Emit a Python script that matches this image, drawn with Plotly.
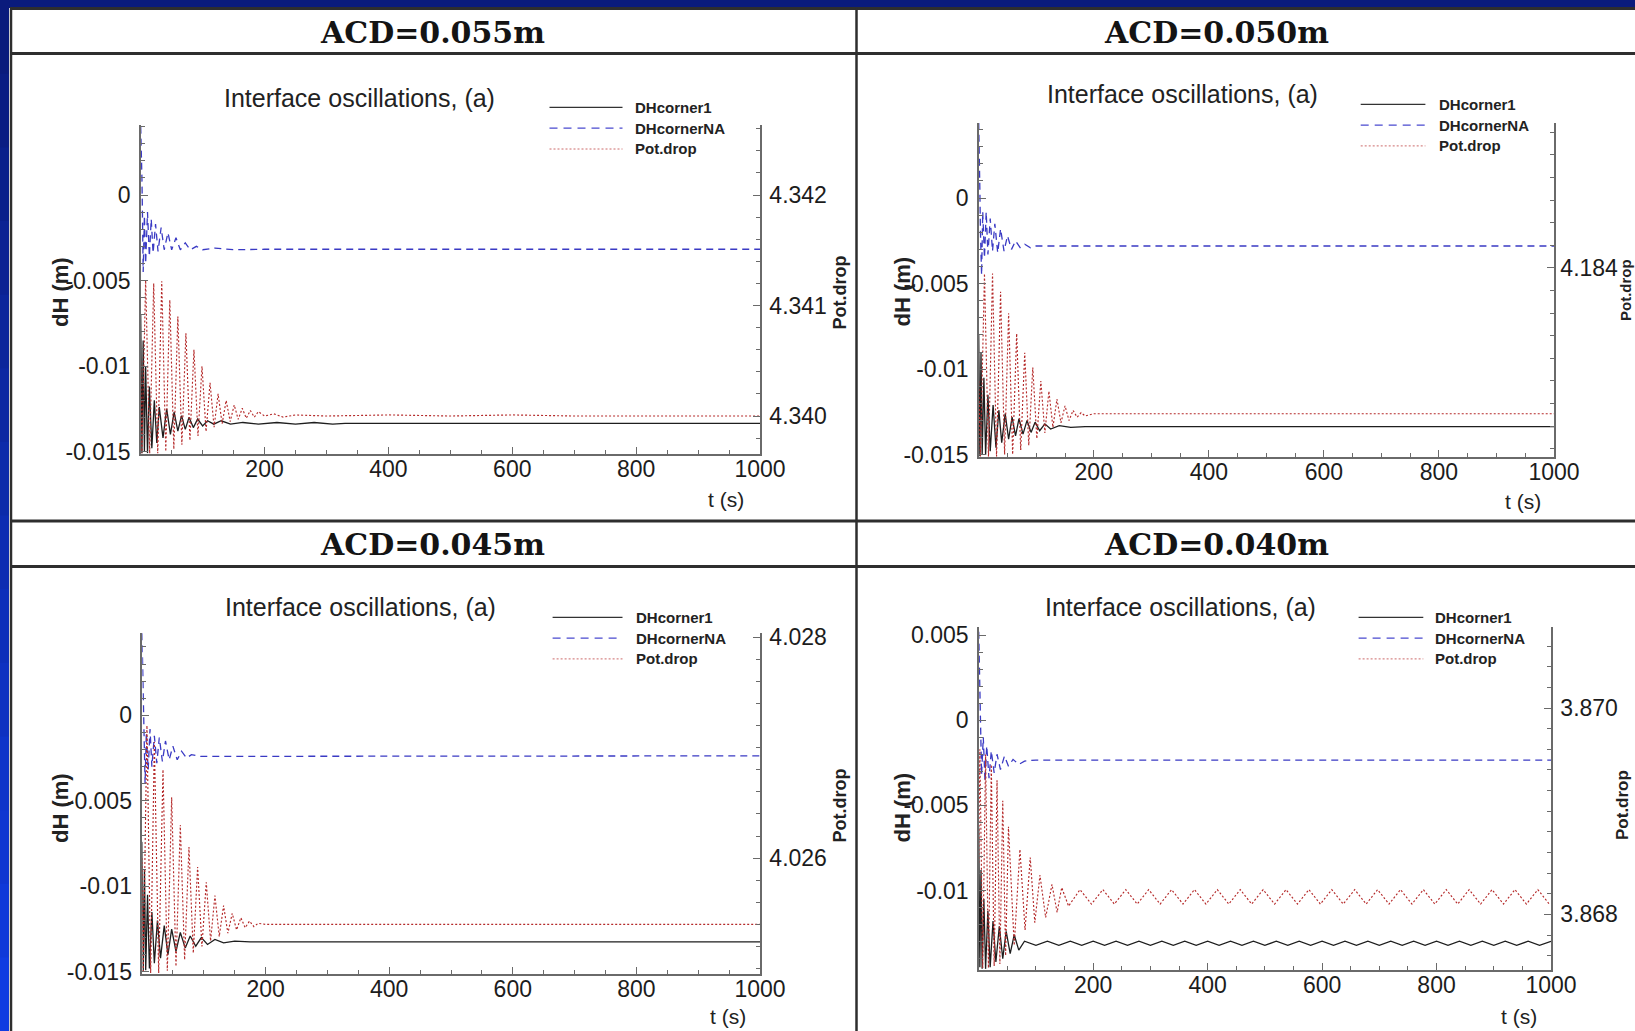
import plotly.graph_objects as go

W, H = 1635, 1031

# ---------------- data ----------------
PANEL_TITLES = ["ACD=0.055m", "ACD=0.050m", "ACD=0.045m", "ACD=0.040m"]
PLOT_TITLE = "Interface oscillations, (a)"
SERIES_NAMES = ["DHcorner1", "DHcornerNA", "Pot.drop"]
X_LABEL = "t (s)"
YL_LABEL = "dH (m)"
YR_LABEL = "Pot.drop"
X_TICKS = [200, 400, 600, 800, 1000]
YL_TICKS_A = [0, -0.005, -0.01, -0.015]
YL_TEXT_A = ["0", "-0.005", "-0.01", "-0.015"]
YL_TICKS_B = [0.005, 0, -0.005, -0.01]
YL_TEXT_B = ["0.005", "0", "-0.005", "-0.01"]
YR_TICKS_055 = [4.340, 4.341, 4.342]
YR_TICKS_050 = [4.184]
YR_TICKS_045 = [4.026, 4.028]
YR_TICKS_040 = [3.868, 3.870]

# ---- ACD = 0.055 m ----
T_DH1_055 = [0, 2, 4, 6, 8, 11, 14, 18, 22, 26, 30, 36, 42, 48, 54, 60, 66, 72, 78, 85,
             92, 100, 108, 118, 130, 145, 165, 190, 220, 250, 280, 310, 330, 400, 500,
             600, 700, 800, 900, 1000]
DH1_055 = [-0.0070, -0.0151, -0.0085, -0.0150, -0.0100, -0.0151, -0.0112, -0.0148, -0.0120, -0.0145,
           -0.0124, -0.0142, -0.0125, -0.0140, -0.0127, -0.0138, -0.0129, -0.0137, -0.0130, -0.0136,
           -0.0131, -0.0135, -0.0132, -0.0134, -0.0132, -0.0134, -0.0133, -0.0134, -0.0133, -0.0134,
           -0.0133, -0.0134, -0.01335, -0.01335, -0.01335, -0.01335, -0.01335, -0.01335, -0.01335, -0.01335]
T_DHNA_055 = [0, 1, 2, 3, 4, 6, 8, 11, 14, 17, 20, 24, 28, 33, 38, 44, 50, 57, 64, 72,
              80, 90, 100, 120, 150, 200, 1000]
DHNA_055 = [0.0040, 0.0030, 0.0010, -0.0015, -0.0045, -0.0012, -0.0040, -0.0010, -0.0036, -0.0014,
            -0.0034, -0.0017, -0.0033, -0.0019, -0.0032, -0.0022, -0.0032, -0.0025, -0.0032, -0.0028,
            -0.0032, -0.0030, -0.0032, -0.0031, -0.0032, -0.00317, -0.00317]
T_POT_055 = [0, 2, 8, 14.5, 21, 27.5, 34, 40.5, 47, 53.5, 60, 66.5, 73, 79.5, 86, 92.5, 99, 105.5,
             112, 118.5, 125, 131.5, 138, 144.5, 151, 157.5, 164, 170.5, 177, 183.5, 190, 200,
             215, 230, 250, 300, 400, 500, 600, 700, 800, 900, 1000]
POT_055 = [4.3405, 4.33966, 4.34123, 4.33966, 4.34120, 4.33966, 4.34122, 4.33968, 4.34105, 4.33970,
           4.34090, 4.33974, 4.34075, 4.33978, 4.34060, 4.33982, 4.34045, 4.33986, 4.34030, 4.33990,
           4.34020, 4.33993, 4.34014, 4.33995, 4.34010, 4.33997, 4.34007, 4.33998, 4.34005, 4.33999,
           4.34004, 4.34000, 4.34002, 4.33999, 4.34001, 4.34000, 4.34001, 4.34000, 4.34001, 4.34000,
           4.34000, 4.34000, 4.34000]

# ---- ACD = 0.050 m ----
T_DH1_050 = [0, 2, 4, 6, 9, 12, 16, 20, 25, 30, 35, 40, 46, 52, 58, 64, 70, 77, 84, 91,
             98, 106, 115, 125, 140, 160, 185, 1000]
DH1_050 = [-0.0080, -0.0151, -0.0090, -0.0150, -0.0105, -0.0150, -0.0115, -0.0148, -0.0121, -0.0146,
           -0.0124, -0.0143, -0.0126, -0.0141, -0.0128, -0.0139, -0.0129, -0.0138, -0.0130, -0.0137,
           -0.0131, -0.0136, -0.0132, -0.0135, -0.0133, -0.0134, -0.01336, -0.01336]
T_DHNA_050 = [0, 1, 2, 3, 5, 7, 10, 13, 16, 20, 24, 28, 33, 38, 44, 50, 57, 64, 72, 80,
              90, 100, 130, 1000]
DHNA_050 = [0.0044, 0.0030, 0.0005, -0.0020, -0.0045, -0.0008, -0.0035, -0.0008, -0.0033, -0.0012,
            -0.0031, -0.0015, -0.0032, -0.0018, -0.0031, -0.0022, -0.0030, -0.0025, -0.0029, -0.0027,
            -0.0029, -0.0028, -0.0028, -0.0028]
T_POT_050 = [0, 3, 10, 17, 24, 31, 38, 45, 52, 59, 66, 73, 80, 87, 94, 101, 108, 115, 122, 129,
             136, 143, 150, 157, 164, 171, 178, 185, 200, 1000]
POT_050 = [4.1830, 4.18233, 4.18395, 4.18233, 4.18395, 4.18233, 4.18379, 4.18235, 4.18360, 4.18235,
           4.18342, 4.18239, 4.18325, 4.18243, 4.18312, 4.18249, 4.18300, 4.18254, 4.18291, 4.18259,
           4.18284, 4.18263, 4.18278, 4.18265, 4.18274, 4.18268, 4.18272, 4.18269, 4.18271, 4.18271]

# ---- ACD = 0.045 m ----
T_DH1_045 = [0, 2, 4, 6, 9, 12, 16, 20, 25, 30, 36, 42, 48, 55, 62, 70, 78, 87, 96, 106,
             118, 132, 150, 175, 1000]
DH1_045 = [-0.0074, -0.0150, -0.0090, -0.0149, -0.0105, -0.0148, -0.0115, -0.0145, -0.0120, -0.0142,
           -0.0123, -0.0140, -0.0125, -0.0138, -0.0127, -0.0136, -0.0129, -0.0135, -0.0130, -0.0134,
           -0.0131, -0.0133, -0.0132, -0.01325, -0.01325]
T_DHNA_045 = [0, 1, 2, 3, 5, 7, 10, 13, 16, 20, 24, 28, 33, 38, 44, 50, 57, 64, 72, 80, 95, 1000]
DHNA_045 = [0.0048, 0.0030, 0.0005, -0.0020, -0.0040, -0.0010, -0.0032, -0.0008, -0.0030, -0.0012,
            -0.0028, -0.0013, -0.0027, -0.0015, -0.0026, -0.0018, -0.0026, -0.0021, -0.0025, -0.0023,
            -0.0024, -0.00237]
T_POT_045 = [0, 2, 8, 14, 20, 27, 34, 41, 48, 55, 62, 69, 76, 83, 90, 97, 104, 111, 118, 125,
             132, 139, 146, 153, 160, 167, 174, 181, 188, 200, 1000]
POT_045 = [4.0260, 4.02496, 4.02720, 4.02496, 4.02705, 4.02496, 4.02680, 4.02498, 4.02655, 4.02502,
           4.02630, 4.02508, 4.02610, 4.02514, 4.02592, 4.02520, 4.02578, 4.02525, 4.02566, 4.02529,
           4.02557, 4.02532, 4.02550, 4.02535, 4.02546, 4.02537, 4.02543, 4.02538, 4.02541, 4.02540,
           4.02540]

# ---- ACD = 0.040 m ----
T_DH1_040 = [0, 2, 4, 6, 9, 12, 16, 20, 25, 30, 36, 42, 48, 55, 62, 70,
             80, 100, 120, 140, 160, 180, 200, 220, 240, 260, 280, 300, 320, 340, 360, 380, 400,
             420, 440, 460, 480, 500, 520, 540, 560, 580, 600, 620, 640, 660, 680, 700,
             720, 740, 760, 780, 800, 820, 840, 860, 880, 900, 920, 940, 960, 980, 1000]
DH1_040 = [-0.0063, -0.0145, -0.0088, -0.0146, -0.0105, -0.0146, -0.0112, -0.0145, -0.0118, -0.0142,
           -0.0121, -0.0140, -0.0124, -0.0137, -0.0126, -0.0135,
           -0.01298, -0.01322, -0.01298, -0.01322, -0.01298, -0.01322, -0.01298, -0.01322, -0.01298,
           -0.01322, -0.01298, -0.01322, -0.01298, -0.01322, -0.01298, -0.01322, -0.01298,
           -0.01322, -0.01298, -0.01322, -0.01298, -0.01322, -0.01298, -0.01322, -0.01298,
           -0.01322, -0.01298, -0.01322, -0.01298, -0.01322, -0.01298, -0.01322,
           -0.01298, -0.01322, -0.01298, -0.01322, -0.01298, -0.01322, -0.01298, -0.01322,
           -0.01298, -0.01322, -0.01298, -0.01322, -0.01298, -0.01322, -0.01298]
T_DHNA_040 = [0, 1, 2, 3, 5, 8, 11, 14, 18, 22, 27, 32, 38, 45, 52, 60, 70, 80, 100, 1000]
DHNA_040 = [0.0052, 0.0035, 0.0010, -0.0015, -0.0032, -0.0010, -0.0036, -0.0015, -0.0034, -0.0018,
            -0.0031, -0.0020, -0.0029, -0.0021, -0.0027, -0.0023, -0.0026, -0.0024, -0.00234, -0.00234]
T_POT_040 = [0, 2, 7, 12, 17, 22, 27, 32, 37, 42, 47, 52, 62, 72, 81, 90, 98, 107, 117, 128,
             137, 145, 157,
             177, 197, 217, 237, 257, 277, 297, 317, 337, 357, 377, 397, 417, 437, 457, 477, 497,
             517, 537, 557, 577, 597, 617, 637, 657, 677, 697, 717, 737, 757, 777, 797,
             817, 837, 857, 877, 897, 917, 937, 957, 977, 997]
POT_040 = [3.8685, 3.86960, 3.86748, 3.86955, 3.86748, 3.86945, 3.86750, 3.86930, 3.86752, 3.86910,
           3.86760, 3.86885, 3.86770, 3.86863, 3.86785, 3.86855, 3.86792, 3.86838, 3.86797, 3.86829,
           3.86802, 3.86826, 3.86808,
           3.86824, 3.86810, 3.86824, 3.86810, 3.86824, 3.86810, 3.86824, 3.86810, 3.86824, 3.86810,
           3.86824, 3.86810, 3.86824, 3.86810, 3.86824, 3.86810, 3.86824,
           3.86810, 3.86824, 3.86810, 3.86824, 3.86810, 3.86824, 3.86810, 3.86824, 3.86810, 3.86824,
           3.86810, 3.86824, 3.86810, 3.86824, 3.86810,
           3.86824, 3.86810, 3.86824, 3.86810, 3.86824, 3.86810, 3.86824, 3.86810, 3.86824, 3.86810]

# ---------------- styling / layout ----------------
NAVY = "#0a1b7c"
AXC = "#6a6a6a"
TXT = "#1c1c1c"
C_BLACK = "#1e1e1e"
C_BLUE = "#3a3ac4"
C_RED = "#b52a2a"
TICKFONT = dict(family="Liberation Sans, Arial, sans-serif", size=23, color=TXT)


def px(x):
    return x / W


def py(y):
    return 1 - y / H


# panel geometry in page pixels: plot box and axis ranges
PANELS = [
    dict(name=PANEL_TITLES[0], hx=432.7, hy=32.3, x0=141, x1=760, y0=125.1, y1=453.6,
         yl=[-0.01512, 0.00409], yr=[4.339660, 4.342633], ylt=YL_TICKS_A, ylx=YL_TEXT_A,
         yrt=YR_TICKS_055, yrmin=[4.3398, 4.3426], rstand=3,
         series=(T_DH1_055, DH1_055, T_DHNA_055, DHNA_055, T_POT_055, POT_055),
         title=(359.7, 98.0), leg=(549.5, 622.5, 633.0, 107.4, 20.8),
         dh=(60.0, 292), pot=(840.4, 292, 18), ts=(726.0, 499.0)),
    dict(name=PANEL_TITLES[1], hx=1216.8, hy=32.3, x0=979, x1=1554, y0=123.0, y1=456.7,
         yl=[-0.01512, 0.00439], yr=[4.182330, 4.185283], ylt=YL_TICKS_A, ylx=YL_TEXT_A,
         yrt=YR_TICKS_050, yrmin=[4.1824, 4.1852], rstand=0,
         series=(T_DH1_050, DH1_050, T_DHNA_050, DHNA_050, T_POT_050, POT_050),
         title=(1182.4, 93.8), leg=(1360.7, 1425.4, 1436.8, 104.3, 20.8),
         dh=(901.5, 292), pot=(1625.0, 290, 15), ts=(1523.0, 501.0)),
    dict(name=PANEL_TITLES[2], hx=432.7, hy=544.3, x0=142.3, x1=760, y0=632.9, y1=973.9,
         yl=[-0.01512, 0.00482], yr=[4.024952, 4.028038], ylt=YL_TICKS_A, ylx=YL_TEXT_A,
         yrt=YR_TICKS_045, yrmin=[4.0250, 4.0280], rstand=3,
         series=(T_DH1_045, DH1_045, T_DHNA_045, DHNA_045, T_POT_045, POT_045),
         title=(360.8, 606.9), leg=(552.6, 622.5, 634.0, 617.3, 20.8),
         dh=(60.0, 808), pot=(840.4, 805, 18), ts=(728.0, 1016.0)),
    dict(name=PANEL_TITLES[3], hx=1216.8, hy=544.3, x0=979, x1=1551, y0=626.7, y1=969.7,
         yl=[-0.01465, 0.00549], yr=[3.867464, 3.870788], ylt=YL_TICKS_B, ylx=YL_TEXT_B,
         yrt=YR_TICKS_040, yrmin=[3.8676, 3.8708], rstand=3,
         series=(T_DH1_040, DH1_040, T_DHNA_040, DHNA_040, T_POT_040, POT_040),
         title=(1180.3, 606.9), leg=(1358.6, 1423.3, 1432.7, 617.3, 20.8),
         dh=(901.5, 808), pot=(1622.0, 805, 17), ts=(1519.0, 1016.0)),
]

fig = go.Figure()
layout = dict(
    width=W, height=H, autosize=False,
    margin=dict(l=0, r=0, t=0, b=0, pad=0, autoexpand=False),
    paper_bgcolor=NAVY, plot_bgcolor="rgba(0,0,0,0)", showlegend=False,
)
shapes = []
annotations = []

# ---- blue slide background with gradient on the left strip ----
n_grad = 14
for i in range(n_grad):
    f = i / (n_grad - 1)
    r = int(10 + f * (16 - 10))
    g = int(27 + f * (60 - 27))
    b = int(124 + f * (225 - 124))
    shapes.append(dict(type="rect", xref="paper", yref="paper", layer="below",
                       x0=px(0), x1=px(9), y0=py(H * (i + 1) / n_grad + 1), y1=py(H * i / n_grad),
                       fillcolor=f"rgb({r},{g},{b})", line=dict(width=0)))
# white table cells
shapes.append(dict(type="rect", xref="paper", yref="paper", layer="below",
                   x0=px(9), x1=px(W + 5), y0=py(H + 5), y1=py(8),
                   fillcolor="white", line=dict(width=0)))
shapes.append(dict(type="rect", xref="paper", yref="paper", layer="below",
                   x0=px(0), x1=px(W + 5), y0=py(7), y1=py(-2),
                   fillcolor=NAVY, line=dict(width=0)))
# table grid lines
GRID = "#2e2e2e"
for yy in [8.5, 53.5, 521.0, 566.5]:
    shapes.append(dict(type="line", xref="paper", yref="paper", layer="below",
                       x0=px(10), x1=px(W + 5), y0=py(yy), y1=py(yy),
                       line=dict(color=GRID, width=3)))
for xx in [11.0, 856.5]:
    shapes.append(dict(type="line", xref="paper", yref="paper", layer="below",
                       x0=px(xx), x1=px(xx), y0=py(8), y1=py(H + 5),
                       line=dict(color=GRID, width=2.5)))

STYLES = [
    dict(color=C_BLACK, width=1.3, dash="solid"),
    dict(color=C_BLUE, width=1.3, dash="7px,5px"),
    dict(color=C_RED, width=1.15, dash="2px,2px"),
]
LEG_STYLES = [
    dict(color="#333333", width=1.3, dash="solid"),
    dict(color="#4a4ad0", width=1.3, dash="8px,6px"),
    dict(color="#cc6a6a", width=1.0, dash="2px,2px"),
]


def frange(a, b, step):
    out = []
    k = 0
    while a + k * step <= b + 1e-12:
        out.append(round(a + k * step, 6))
        k += 1
    return out


for k, p in enumerate(PANELS, start=1):
    xname = "x" if k == 1 else f"x{k}"
    yl_idx, yr_idx = 2 * k - 1, 2 * k
    ylname = "y" if yl_idx == 1 else f"y{yl_idx}"
    yrname = f"y{yr_idx}"
    xkey = "xaxis" if k == 1 else f"xaxis{k}"
    ylkey = "yaxis" if yl_idx == 1 else f"yaxis{yl_idx}"
    yrkey = f"yaxis{yr_idx}"

    tb, vb, tn, vn, tp, vp = p["series"]
    fig.add_trace(go.Scatter(x=tb, y=vb, mode="lines", name=SERIES_NAMES[0],
                             line=STYLES[0], xaxis=xname, yaxis=ylname))
    fig.add_trace(go.Scatter(x=tn, y=vn, mode="lines", name=SERIES_NAMES[1],
                             line=STYLES[1], xaxis=xname, yaxis=ylname))
    fig.add_trace(go.Scatter(x=tp, y=vp, mode="lines", name=SERIES_NAMES[2],
                             line=STYLES[2], xaxis=xname, yaxis=yrname))

    layout[xkey] = dict(
        domain=[px(p["x0"]), px(p["x1"])], range=[0.5, 1000], anchor=ylname,
        showline=True, linecolor=AXC, linewidth=1.5, showgrid=False, zeroline=False,
        ticks="inside", ticklen=7, tickwidth=1.2, tickcolor=AXC, automargin=False,
        tickmode="array", tickvals=X_TICKS, ticktext=[str(v) for v in X_TICKS],
        tickfont=TICKFONT, ticklabelstandoff=-6,
        minor=dict(tickmode="array", tickvals=frange(50, 1000, 50), ticks="inside",
                   ticklen=4, tickwidth=1, tickcolor=AXC),
    )
    layout[ylkey] = dict(
        domain=[py(p["y1"]), py(p["y0"])], range=p["yl"], anchor=xname,
        showline=True, linecolor=AXC, linewidth=1.5, showgrid=False, zeroline=False,
        ticks="inside", ticklen=7, tickwidth=1.2, tickcolor=AXC, automargin=False,
        tickmode="array", tickvals=p["ylt"], ticktext=p["ylx"], tickfont=TICKFONT,
        ticklabelstandoff=4,
        minor=dict(tickmode="array", tickvals=frange(-0.015, 0.005, 0.001), ticks="inside",
                   ticklen=4, tickwidth=1, tickcolor=AXC),
    )
    layout[yrkey] = dict(
        overlaying=ylname, side="right", anchor=xname, range=p["yr"],
        showline=True, linecolor=AXC, linewidth=1.5, showgrid=False, zeroline=False,
        ticks="inside", ticklen=7, tickwidth=1.2, tickcolor=AXC, automargin=False,
        tickmode="array", tickvals=p["yrt"], ticktext=[f"{v:.3f}" for v in p["yrt"]],
        tickfont=TICKFONT, ticklabelstandoff=p["rstand"],
        minor=dict(tickmode="array", tickvals=frange(p["yrmin"][0], p["yrmin"][1], 0.0002),
                   ticks="inside", ticklen=4, tickwidth=1, tickcolor=AXC),
    )

    # headers
    annotations.append(dict(text=f"<b>{p['name']}</b>", x=px(p["hx"]), y=py(p["hy"]),
                            xref="paper", yref="paper", showarrow=False,
                            xanchor="center", yanchor="middle",
                            font=dict(family="DejaVu Serif, Liberation Serif, serif", size=30,
                                      color="#141414")))
    # plot title
    annotations.append(dict(text=PLOT_TITLE, x=px(p["title"][0]), y=py(p["title"][1]),
                            xref="paper", yref="paper", showarrow=False,
                            xanchor="center", yanchor="middle",
                            font=dict(family="Liberation Sans, Arial, sans-serif", size=25,
                                      color="#222222")))
    # legend (drawn by hand)
    lx0, lx1, tx, ly0, dy = p["leg"]
    for i, nm in enumerate(SERIES_NAMES):
        yy = ly0 + i * dy
        shapes.append(dict(type="line", xref="paper", yref="paper",
                           x0=px(lx0), x1=px(lx1), y0=py(yy), y1=py(yy), line=LEG_STYLES[i]))
        annotations.append(dict(text=f"<b>{nm}</b>", x=px(tx), y=py(yy), xref="paper",
                                yref="paper", showarrow=False, xanchor="left", yanchor="middle",
                                font=dict(family="Liberation Sans, Arial, sans-serif", size=15,
                                          color="#222222")))
    # axis titles
    annotations.append(dict(text=f"<b>{YL_LABEL}</b>", x=px(p["dh"][0]), y=py(p["dh"][1]),
                            xref="paper", yref="paper", showarrow=False, textangle=-90,
                            xanchor="center", yanchor="middle",
                            font=dict(family="Liberation Sans, Arial, sans-serif", size=22,
                                      color="#222222")))
    annotations.append(dict(text=f"<b>{YR_LABEL}</b>", x=px(p["pot"][0]), y=py(p["pot"][1]),
                            xref="paper", yref="paper", showarrow=False, textangle=-90,
                            xanchor="center", yanchor="middle",
                            font=dict(family="Liberation Sans, Arial, sans-serif",
                                      size=p["pot"][2], color="#222222")))
    annotations.append(dict(text=X_LABEL, x=px(p["ts"][0]), y=py(p["ts"][1]),
                            xref="paper", yref="paper", showarrow=False,
                            xanchor="center", yanchor="middle",
                            font=dict(family="Liberation Sans, Arial, sans-serif", size=21,
                                      color="#222222")))

layout["shapes"] = shapes
layout["annotations"] = annotations
fig.update_layout(**layout)
fig.write_html("out.html", config={"displayModeBar": False})
